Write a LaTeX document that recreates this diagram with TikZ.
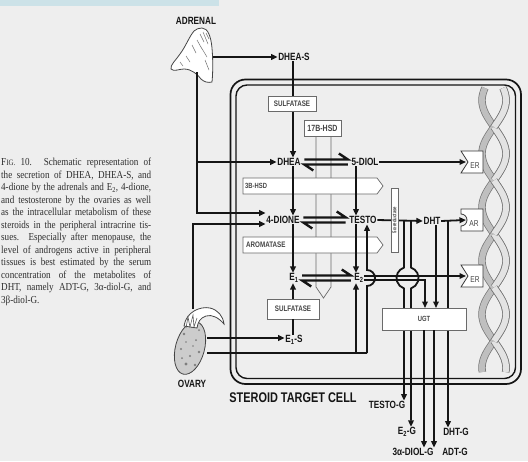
\documentclass[tikz,border=0pt]{standalone}
\usepackage{fontspec}
\setmainfont{Liberation Serif}
\setsansfont{Liberation Sans}
\usetikzlibrary{arrows.meta,calc}
\definecolor{paper}{HTML}{EEEEEE}
\definecolor{topband}{HTML}{CCE2E8}
\definecolor{ink}{HTML}{151515}
\definecolor{capink}{HTML}{2E2E2E}
\definecolor{enzline}{HTML}{6A6A6A}
% condensed bold sans for the diagram labels
\newcommand\cnd[1]{\scalebox{0.78}[1]{#1}}
% one justified, slightly condensed line of the legend
\newcommand\capline[1]{\scalebox{0.85}[1]{\makebox[176.5pt][s]{#1}}\\}

\begin{document}
\begin{tikzpicture}[x=1pt,y=-1pt,
  lbl/.style={font=\sffamily\bfseries\fontsize{10.5}{12}\selectfont, text=ink, inner sep=0.5pt},
  tiny/.style={font=\sffamily\bfseries\fontsize{8}{9}\selectfont, text=ink!80, inner sep=0pt},
  enz/.style={draw=enzline, line width=0.7pt, fill=white},
  flow/.style={draw=ink, line width=1.8pt},
  arr/.style={flow, -{Triangle[length=6.5pt,width=5.6pt]}},
  eqline/.style={draw=ink, line width=2.4pt},
  cellwall/.style={draw=ink, line width=1.7pt},
  recep/.style={draw=ink!85, line width=0.8pt, fill=white},
  dnaback/.style={line width=6pt, draw=gray!50, preaction={draw=black!55, line width=7.4pt}},
  dnafront/.style={line width=6pt, draw=gray!22, preaction={draw=black!55, line width=7.4pt}},
]
\useasboundingbox (0,0) rectangle (528,461);
\fill[paper] (0,0) rectangle (528,461);
\fill[topband] (0,0) rectangle (219,6);

% ---------- legend ----------
\node[anchor=north west, inner sep=0pt, text=capink, align=left,
      font=\fontsize{10.7}{12.5}\selectfont] (legend) at (1,158) {%
\capline{F{\fontsize{8.2}{12.5}\selectfont IG.} 10. Schematic representation of}
\capline{the secretion of DHEA, DHEA-S, and}
\capline{4-dione by the adrenals and E\textsubscript{2}, 4-dione,}
\capline{and testosterone by the ovaries as well}
\capline{as the intracellular metabolism of these}
\capline{steroids in the peripheral intracrine tis-}
\capline{sues. Especially after menopause, the}
\capline{level of androgens active in peripheral}
\capline{tissues is best estimated by the serum}
\capline{concentration of the metabolites of}
\capline{DHT, namely ADT-G, 3α-diol-G, and}
\scalebox{0.85}[1]{3β-diol-G.}};

% ---------- adrenal gland ----------
\node[lbl] (adrlbl) at (196,21) {\cnd{ADRENAL}};
\draw[ink!80, line width=0.8pt, fill=white] (202,28) .. controls (208,28) and (211,37) .. (212,48)
  .. controls (213,60) and (213,72) .. (212,82) .. controls (208,83) and (204,82) .. (201,79)
  .. controls (198,75) and (192,69) .. (184,69) .. controls (179,69) and (174,72) .. (171,69)
  .. controls (170,65) and (176,60) .. (180,54) .. controls (186,46) and (189,37) .. (194,31)
  .. controls (196,29) and (199,28) .. (202,28) -- cycle;
\draw[ink!60, line width=0.5pt] (200,34) -- (204,42) (203,32) -- (208,44) (197,40) -- (202,49)
  (201,47) -- (207,57) (192,45) -- (196,53) (186,56) -- (190,62) (205,60) -- (209,70)
  (180,62) -- (183,66) (206,33) -- (209,39);
\coordinate (adrR) at (213,57);
\coordinate (adrB) at (197,72);

% ---------- ovary ----------
\node[lbl] (ovlbl) at (192,384) {\cnd{OVARY}};
\draw[ink!80, line width=0.8pt, fill=gray!40, rotate around={-15:(190,348)}] (190,348) ellipse[x radius=14.5pt, y radius=27pt];
\foreach \p/\r in {(184,334)/1.4,(190,356)/1.2,(196,340)/1,(186,364)/1.6,(195,365)/1.3,(199,330)/1,(181,349)/1.2,(192,327)/1,(199,352)/1.4,(186,342)/0.9,(193,346)/0.8,(182,358)/1}
  \fill[ink!55] \p circle[radius=\r pt];
\draw[ink!80, line width=0.8pt, fill=white] (184,326) .. controls (186,312) and (200,306) .. (210,308)
  .. controls (218,310) and (223,316) .. (224,324) .. controls (219,318) and (212,314) .. (206,316)
  .. controls (200,318) and (198,322) .. (197,328) -- cycle;
\draw[ink!70, line width=0.6pt] (186,328) -- (188,317) -- (190,327) -- (193,315) -- (194,327) -- (197,318);
\coordinate (ovT) at (193,309);
\coordinate (ovR1) at (207,338);
\coordinate (ovR2) at (207,353);

% ---------- cell ----------
\draw[cellwall, rounded corners=15pt] (230.5,79.5) rectangle (521,384);
\draw[cellwall, line width=1.4pt, rounded corners=11pt] (236,85) rectangle (515.5,378.5);
\node[lbl, font=\sffamily\bfseries\fontsize{14}{16}\selectfont] (celllbl) at (293,398) {\cnd{STEROID TARGET CELL}};

% ---------- DNA double helix ----------
\draw[dnaback] plot[domain=88:372, samples=120, variable=\t] ({494+12*sin((\t-127)*3.3645)},\t);
\draw[dnaback] plot[domain=88:372, samples=120, variable=\t] ({494-12*sin((\t-127)*3.3645)},\t);
\foreach \a/\b in {127/180.5, 234/287.5, 341/372}
  \draw[dnafront] plot[domain=\a:\b, samples=30, variable=\t] ({494+12*sin((\t-127)*3.3645)},\t);
\foreach \a/\b in {88/127, 180.5/234, 287.5/341}
  \draw[dnafront] plot[domain=\a:\b, samples=30, variable=\t] ({494-12*sin((\t-127)*3.3645)},\t);

% ---------- receptors ----------
\draw[recep] (461,151) -- (483,151) -- (483,173) -- (461,173) -- (468,162) -- cycle;
\draw[recep] (461,209) -- (483,209) -- (483,231) -- (461,231) -- (461,226) arc[start angle=-90, end angle=90, radius=6pt] -- cycle;
\draw[recep] (461,265) -- (483,265) -- (483,287) -- (461,287) -- (468,276) -- cycle;
\node[tiny, font=\sffamily\fontsize{8.5}{9}\selectfont] (er1) at (475,166) {\cnd{ER}};
\node[tiny, font=\sffamily\fontsize{8.5}{9}\selectfont] (ar) at (474,224) {\cnd{AR}};
\node[tiny, font=\sffamily\fontsize{8.5}{9}\selectfont] (er2) at (475,280) {\cnd{ER}};
\coordinate (er1n) at (466,162);
\coordinate (arn) at (466,220);
\coordinate (er2n) at (466,276);

% ---------- enzyme bands ----------
\draw[enz, fill=none] (316,136) -- (316,287) -- (323.5,298) -- (331,287) -- (331,136);
\node[enz, tiny, font=\sffamily\bfseries\fontsize{9}{10}\selectfont, minimum width=37pt, minimum height=16pt] (hsd17) at (322.5,128) {\cnd{17B-HSD}};
\draw[enz] (243,178) -- (377,178) -- (383,186) -- (377,194) -- (243,194) -- cycle;
\node[tiny, font=\sffamily\bfseries\fontsize{7.5}{9}\selectfont, anchor=west] (hsd3) at (245,186) {\cnd{3B-HSD}};
\draw[enz] (243,237) -- (377,237) -- (383,245) -- (377,253) -- (243,253) -- cycle;
\node[tiny, anchor=west] (arom) at (246,245) {\cnd{AROMATASE}};

% ---------- steroid labels ----------
\node[lbl] (dheas) at (294,57) {\cnd{DHEA-S}};
\node[enz, tiny, minimum width=48pt, minimum height=15pt] (sulfA) at (292,104) {\cnd{SULFATASE}};
\node[lbl] (dhea) at (289,162) {\cnd{DHEA}};
\node[lbl] (diol) at (365,162) {\cnd{5-DIOL}};
\node[lbl] (dione) at (283,220) {\cnd{4-DIONE}};
\node[lbl] (testo) at (363,220) {\cnd{TESTO}};
\node[lbl] (dht) at (432,221) {\cnd{DHT}};
\node[lbl] (e1) at (294,278) {\cnd{E\textsubscript{1}}};
\node[lbl] (e2) at (359,278) {\cnd{E\textsubscript{2}}};
\node[enz, tiny, minimum width=52pt, minimum height=20pt] (sulfB) at (293,309) {\cnd{SULFATASE}};
\node[lbl] (e1s) at (294,340) {\cnd{E\textsubscript{1}-S}};
\node[lbl] (testog) at (387,405) {\cnd{TESTO-G}};
\node[lbl] (e2g) at (407,432) {\cnd{E\textsubscript{2}-G}};
\node[lbl] (dhtg) at (456,432) {\cnd{DHT-G}};
\node[lbl] (diolg) at (413,452) {\cnd{3α-DIOL-G}};
\node[lbl] (adtg) at (455,452) {\cnd{ADT-G}};

% column positions
\coordinate (xA) at (293,0);
\coordinate (xB) at (356,0);
\coordinate (xT) at (367,0);
\coordinate (xE) at (425,0);
\coordinate (xD) at (436,0);
\coordinate (xR) at (448,0);
\coordinate (x404) at (404,0);
\coordinate (x411) at (411,0);
\coordinate (x424) at (424,0);
\coordinate (x434) at (434,0);

% ---------- supply from the glands ----------
\draw[arr] (adrR) -- (dheas.west |- adrR);
\draw[arr] (adrB) |- (dhea.west);
\draw[arr] (adrB) |- ([yshift=7pt]dione.west);
\draw[arr] (ovT) |- ([yshift=-4pt]dione.west);
\draw[arr] (ovR1) -- (e1s.west |- ovR1);
\coordinate (ovK) at (xT |- ovR2);
\draw[flow] (ovR2) -- (ovK);
\draw[arr] (xB |- ovR2) -- (e2.south -| xB);
\draw[arr] (ovK) -- (367,286) arc[start angle=-90, end angle=90, radius=8pt] -- (testo.south -| xT);

% ---------- intracellular conversions ----------
\draw[flow] (dheas.south -| xA) -- (sulfA.north -| xA);
\draw[arr] (sulfA.south -| xA) -- (dhea.north -| xA);
\draw[arr] (dhea.south -| xA) -- (dione.north -| xA);
\draw[arr] (dione.south -| xA) -- (e1.north -| xA);
\draw[arr] (sulfB.north -| xA) -- (e1.south -| xA);
\draw[flow] (e1s.north -| xA) -- (sulfB.south -| xA);
\draw[arr] (diol.south -| xB) -- (testo.north -| xB);
\draw[arr] (testo.south -| xB) -- (e2.north -| xB);

% reversible 17B-HSD steps
\foreach \a/\b in {dhea/diol, dione/testo, e1/e2} {
  \draw[eqline] ($(\a.east)+(3,-2.5)$) -- ($(\b.west)+(-3,-2.5)$) -- ++(-9,-6);
  \draw[eqline] ($(\b.west)+(-3,2.5)$) -- ($(\a.east)+(3,2.5)$) -- ++(9,6);
}

% to the receptors
\draw[arr] (diol.east) -- (er1n);
\draw[arr] (testo.east) -- (dht.west);
\draw[arr] (dht.east) -- (arn);
\draw[arr] ([yshift=2pt]e2.east) -- (er2n);

% to the glucuronidation step
\draw[arr] (404,220) -- (404,267.57) arc[start angle=108.5, end angle=251.5, radius=11pt] -- (testog.north -| x404);
\draw[arr] (411,220) -- (411,267.57) arc[start angle=71.5, end angle=-71.5, radius=11pt] -- (e2g.north -| x411);
\draw[arr] ([yshift=-2pt]e2.east) -| (xE |- 0,308);
\draw[arr] (dht.south -| xD) -- (xD |- 0,308);
\draw[arr] (xR |- dht.east) -- (dhtg.north -| xR);

\node[enz, minimum width=84pt, minimum height=22pt, tiny, font=\sffamily\bfseries\fontsize{7.5}{9}\selectfont] (ugt) at (424,319) {\cnd{UGT}};
\draw[arr] (ugt.south -| x424) -- (diolg.north -| x424);
\draw[arr] (ugt.south -| x434) -- (adtg.north -| x434);

% 5alpha-reductase tag on the TESTO -> DHT step
\node[enz, minimum width=7pt, minimum height=64pt, inner sep=0pt] (red) at (394.5,220) {};
\node[rotate=90, font=\sffamily\bfseries\fontsize{5.5}{6}\selectfont, text=ink!80] (redlbl) at (red) {\cnd{5α-reductase}};
\end{tikzpicture}
\end{document}
